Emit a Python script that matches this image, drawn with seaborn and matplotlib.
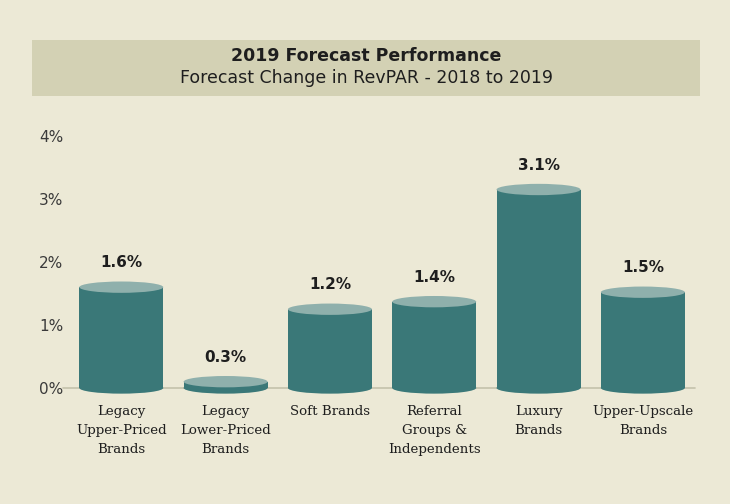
import matplotlib
matplotlib.use("Agg")
import matplotlib.pyplot as plt
import seaborn as sns
from matplotlib.patches import Ellipse, Rectangle

categories = ["Legacy\nUpper-Priced\nBrands", "Legacy\nLower-Priced\nBrands", "Soft Brands",
              "Referral\nGroups &\nIndependents", "Luxury\nBrands", "Upper-Upscale\nBrands"]
values = [1.6, 0.1, 1.25, 1.37, 3.15, 1.52]
value_labels = ["1.6%", "0.3%", "1.2%", "1.4%", "3.1%", "1.5%"]
yticks = [0, 1, 2, 3, 4]
ytick_labels = ["0%", "1%", "2%", "3%", "4%"]

BG = "#ece9d6"
BANNER = "#d3d1b4"
SIDE = "#3a7878"
TOP = "#8fb0ac"
TXT = "#1e1e1e"

sns.set_theme(style="white")
plt.rcParams['font.family'] = ['DejaVu Sans']

fig = plt.figure(figsize=(7.3, 5.04), dpi=100, facecolor=BG)
ax = fig.add_axes([66/730, 0.2177, (695-66)/730, 0.5188])
ax.set_facecolor(BG)

sns.barplot(x=categories, y=values, color=SIDE, saturation=1, width=0.805, ax=ax, zorder=3)

eh = 0.18
for p, lab in zip(ax.patches, value_labels):
    x0, w, h = p.get_x(), p.get_width(), p.get_height()
    cx = x0 + w / 2
    p.set_edgecolor("none")
    ax.add_patch(Ellipse((cx, 0), w, eh, facecolor=SIDE, edgecolor="none", zorder=2.9, clip_on=False))
    ax.add_patch(Ellipse((cx, h), w, eh, facecolor=TOP, edgecolor="none", zorder=4, clip_on=False))
    ax.annotate(lab, (cx, h), xytext=(0, 17.5), textcoords="offset points", ha="center", va="center",
                fontsize=11, fontweight="bold", color=TXT)

ax.axhline(0, color="#c4c2ab", lw=1.2, zorder=1, xmin=-0.005, xmax=1.0, clip_on=False)
ax.set_xlim(-0.53, 5.5)
ax.set_ylim(-0.1, 4.05)
ax.set_yticks(yticks)
ax.set_yticklabels(ytick_labels, fontsize=11, color="#3a3a3a")
ax.tick_params(axis="y", length=0, pad=2)
ax.tick_params(axis="x", length=0, pad=8)
for t in ax.get_xticklabels():
    t.set_fontfamily("DejaVu Serif")
    t.set_fontsize(9.6)
    t.set_color(TXT)
    t.set_linespacing(1.6)
    t.set_va("top")
for s in ax.spines.values():
    s.set_visible(False)
ax.set_xlabel("")
ax.set_ylabel("")

fig.patches.append(Rectangle((32/730, 1 - 96/504), (700-32)/730, (96-40)/504,
                             transform=fig.transFigure, facecolor=BANNER, edgecolor="none", zorder=0))
fig.text(366/730, 1 - 56/504, "2019 Forecast Performance", ha="center", va="center",
         fontsize=12.5, fontweight="bold", color=TXT)
fig.text(366/730, 1 - 78/504, "Forecast Change in RevPAR - 2018 to 2019", ha="center", va="center",
         fontsize=12.5, color=TXT)

fig.savefig("out.png", dpi=100, facecolor=BG)
